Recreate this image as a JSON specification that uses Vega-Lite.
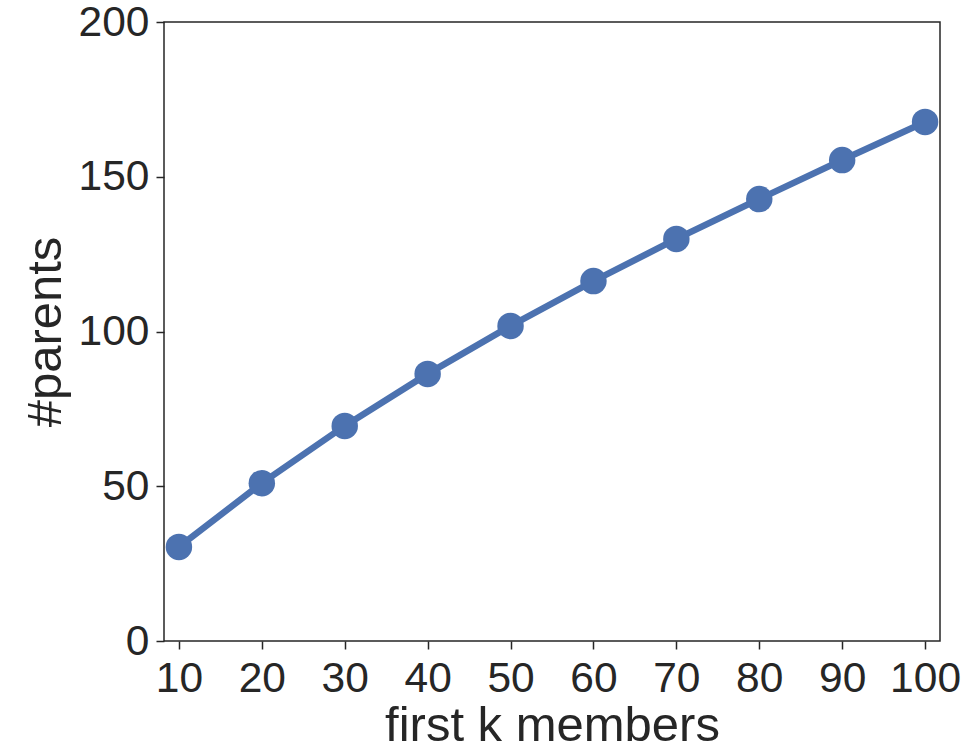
{
  "$schema": "https://vega.github.io/schema/vega-lite/v6.json",
  "autosize": "none",
  "width": 776,
  "height": 619,
  "padding": {"left": 164, "top": 22, "right": 29, "bottom": 113},
  "background": "white",
  "config": {
    "view": {"stroke": "#262626", "strokeWidth": 1.5},
    "font": "Liberation Sans",
    "axis": {
      "grid": false,
      "domain": false,
      "tickColor": "#262626",
      "tickWidth": 1.5,
      "tickSize": 8,
      "labelFont": "Liberation Sans",
      "labelFontSize": 42.5,
      "labelColor": "#262626",
      "titleFont": "Liberation Sans",
      "titleFontSize": 49,
      "titleFontWeight": "normal",
      "titleColor": "#262626"
    }
  },
  "data": {
    "values": [
      {"k": 10, "parents": 30.4},
      {"k": 20, "parents": 51.0},
      {"k": 30, "parents": 69.5},
      {"k": 40, "parents": 86.3},
      {"k": 50, "parents": 101.8},
      {"k": 60, "parents": 116.3},
      {"k": 70, "parents": 129.9},
      {"k": 80, "parents": 142.8},
      {"k": 90, "parents": 155.4},
      {"k": 100, "parents": 167.7}
    ]
  },
  "encoding": {
    "x": {
      "field": "k",
      "type": "quantitative",
      "scale": {"domain": [8.2, 101.8], "nice": false, "zero": false},
      "axis": {"values": [10, 20, 30, 40, 50, 60, 70, 80, 90, 100], "title": "first k members", "labelPadding": 8, "titlePadding": 2}
    },
    "y": {
      "field": "parents",
      "type": "quantitative",
      "scale": {"domain": [0, 200], "nice": false},
      "axis": {"values": [0, 50, 100, 150, 200], "title": "#parents", "labelPadding": 7, "titlePadding": 8}
    }
  },
  "layer": [
    {"mark": {"type": "line", "color": "#4C72B0", "strokeWidth": 6.5}},
    {"mark": {"type": "point", "filled": true, "color": "#4C72B0", "opacity": 1, "size": 700}}
  ]
}
